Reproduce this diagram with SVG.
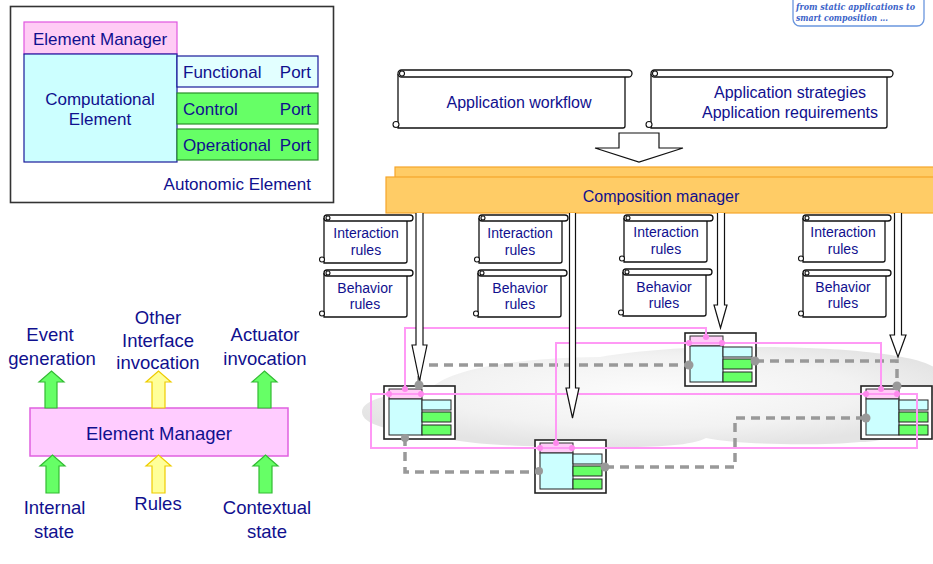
<svg xmlns="http://www.w3.org/2000/svg" xmlns:xlink="http://www.w3.org/1999/xlink" width="933" height="564" viewBox="0 0 933 564">
  <defs>
    <style>
      .lbl { font-family: "Liberation Sans", Arial, sans-serif; fill: #10108e; }
      .f17 { font-size: 17px; }
      .f18 { font-size: 18.5px; }
      .f16 { font-size: 16px; }
      .f14 { font-size: 14px; }
      .mid { text-anchor: middle; }
      .end { text-anchor: end; }
      .scroll { fill: #ffffff; stroke: #111111; stroke-width: 1.3; }
      .curl { fill: #ffffff; stroke: #111111; stroke-width: 1.1; }
      .up-green { fill: #66ff66; stroke: #33bb33; stroke-width: 1.2; }
      .up-yellow { fill: #ffff99; stroke: #eecc00; stroke-width: 1.2; }
      .dash { fill: none; stroke: #999999; stroke-width: 3.5; stroke-dasharray: 9 6; }
      .pink { fill: none; stroke: #ff99f5; stroke-width: 2; }
      .pdot { fill: #ff88ee; }
      .gdot { fill: #999999; }
      .flow { fill: #ffffff; stroke: #111111; stroke-width: 1.2; }
      .note { font-family: "DejaVu Serif", serif; font-style: italic; font-weight: bold; font-size: 9px; fill: #3a62c8; }
    </style>
    <radialGradient id="cloudFill" cx="50%" cy="45%" r="55%">
      <stop offset="0%" stop-color="#fcfcfc"/>
      <stop offset="65%" stop-color="#f2f2f2"/>
      <stop offset="100%" stop-color="#e4e4e4"/>
    </radialGradient>
    <!-- small autonomic element used in the composition area -->
    <g id="miniElement">
      <rect x="0" y="0" width="71" height="53" fill="#ffffff" stroke="#222222" stroke-width="1.6"/>
      <rect x="5" y="3" width="33" height="10" fill="#ffccf7" stroke="#333333" stroke-width="1"/>
      <rect x="5" y="13" width="33" height="36" fill="#ccffff" stroke="#222222" stroke-width="1"/>
      <rect x="38" y="14" width="29" height="10" fill="#ccffff" stroke="#222222" stroke-width="1"/>
      <rect x="38" y="26" width="29" height="10" fill="#66ff66" stroke="#222222" stroke-width="1"/>
      <rect x="38" y="39" width="29" height="10" fill="#66ff66" stroke="#222222" stroke-width="1"/>
    </g>
  </defs>

  <rect x="0" y="0" width="933" height="564" fill="#ffffff"/>

  <!-- note box, top right -->
  <g id="note">
    <rect x="793" y="-12" width="131" height="38" rx="7" fill="#ffffff" stroke="#6a96de" stroke-width="1.3"/>
    <text class="note" x="796" y="10" textLength="119" lengthAdjust="spacingAndGlyphs">from static applications to</text>
    <text class="note" x="796" y="21" textLength="92" lengthAdjust="spacingAndGlyphs">smart composition ...</text>
  </g>

  <!-- autonomic element structure -->
  <g id="autonomic-element">
    <rect x="10.5" y="6.5" width="323" height="196" fill="#ffffff" stroke="#333333" stroke-width="1.6"/>
    <rect x="24" y="22" width="153" height="32" fill="#ffccf5" stroke="#e055e0" stroke-width="1.2"/>
    <rect x="24" y="54" width="153" height="108" fill="#ccffff" stroke="#1a1a9a" stroke-width="1.2"/>
    <rect x="177" y="56" width="141" height="31" fill="#e2ffff" stroke="#1a1a9a" stroke-width="1.2"/>
    <rect x="177" y="93" width="141" height="31" fill="#66ff66" stroke="#2a8f2a" stroke-width="1.2"/>
    <rect x="177" y="129" width="141" height="31" fill="#66ff66" stroke="#2a8f2a" stroke-width="1.2"/>
    <text class="lbl f17 mid" x="100" y="45">Element Manager</text>
    <text class="lbl f17 mid" x="100" y="105">Computational</text>
    <text class="lbl f17 mid" x="100" y="125">Element</text>
    <text class="lbl f17" x="183" y="78">Functional</text>
    <text class="lbl f17 end" x="311" y="78">Port</text>
    <text class="lbl f17" x="183" y="115">Control</text>
    <text class="lbl f17 end" x="311" y="115">Port</text>
    <text class="lbl f17" x="183" y="151">Operational</text>
    <text class="lbl f17 end" x="311" y="151">Port</text>
    <text class="lbl f17 end" x="311" y="190">Autonomic Element</text>
  </g>

  <!-- element manager inputs and outputs -->
  <g id="element-manager">
    <rect x="30" y="408" width="258" height="48" fill="#ffccff" stroke="#e060e0" stroke-width="1.5"/>
    <text class="lbl f18 mid" x="159" y="440">Element Manager</text>
  </g>
  <g id="out-event">
    <path class="up-green" d="M45,408 V382 H39 L51.5,371 L64,382 H57 V408 Z"/>
    <text class="lbl f18 mid" x="50" y="341">Event</text>
    <text class="lbl f18 mid" x="52" y="365">generation</text>
  </g>
  <g id="out-interface">
    <path class="up-yellow" d="M152,408 V382 H146 L158.5,371 L171,382 H165 V408 Z"/>
    <text class="lbl f18 mid" x="158" y="324">Other</text>
    <text class="lbl f18 mid" x="158" y="347">Interface</text>
    <text class="lbl f18 mid" x="158" y="369">invocation</text>
  </g>
  <g id="out-actuator">
    <path class="up-green" d="M258,408 V382 H252 L264.5,371 L277,382 H271 V408 Z"/>
    <text class="lbl f18 mid" x="265" y="341">Actuator</text>
    <text class="lbl f18 mid" x="265" y="365">invocation</text>
  </g>
  <g id="in-internal">
    <path class="up-green" d="M46,493 V466 H40 L52.5,455 L65,466 H59 V493 Z"/>
    <text class="lbl f18 mid" x="54.5" y="514">Internal</text>
    <text class="lbl f18 mid" x="54" y="538">state</text>
  </g>
  <g id="in-rules">
    <path class="up-yellow" d="M152,493 V466 H146 L158.5,455 L171,466 H165 V493 Z"/>
    <text class="lbl f18 mid" x="158" y="510">Rules</text>
  </g>
  <g id="in-contextual">
    <path class="up-green" d="M259,493 V466 H253 L265.5,455 L278,466 H272 V493 Z"/>
    <text class="lbl f18 mid" x="267" y="514">Contextual</text>
    <text class="lbl f18 mid" x="267" y="538">state</text>
  </g>

  <!-- application level inputs -->
  <g id="app-workflow">
    <path class="scroll" d="M398,74 V128 H623 Q625,128 625,126 V77"/>
    <rect class="scroll" x="398" y="70" width="234" height="7" rx="3.5"/>
    <circle class="curl" cx="402" cy="73.5" r="2.5"/>
    <circle class="curl" cx="396" cy="124.5" r="3"/>
    <text class="lbl f16 mid" x="519" y="108">Application workflow</text>
  </g>
  <g id="app-strategies">
    <path class="scroll" d="M651,74 V128 H885 Q887,128 887,126 V77"/>
    <rect class="scroll" x="651" y="70" width="242" height="7" rx="3.5"/>
    <circle class="curl" cx="655" cy="73.5" r="2.5"/>
    <circle class="curl" cx="649" cy="124.5" r="3"/>
    <text class="lbl f16 mid" x="790" y="98">Application strategies</text>
    <text class="lbl f16 mid" x="790" y="118">Application requirements</text>
  </g>
  <g id="feed-arrow">
    <path class="flow" d="M619,133 H659 V148 H683 L639,162 L595,148 H619 Z"/>
  </g>

  <!-- composition manager -->
  <g id="composition-manager">
    <rect x="395" y="167" width="545" height="12" fill="#ffcc66" stroke="#f5a52a" stroke-width="1.2"/>
    <rect x="386" y="177" width="560" height="36" fill="#ffcc66" stroke="#f5a52a" stroke-width="1.2"/>
    <text class="lbl f16 mid" x="661" y="202">Composition manager</text>
  </g>

  <!-- rule sets -->
  <g id="interaction-rules-1">
    <path class="scroll" d="M324,218 V263 H405 Q407,263 407,261 V221"/>
    <rect class="scroll" x="324" y="215" width="89" height="6" rx="3"/>
    <circle class="curl" cx="328" cy="218" r="2"/>
    <circle class="curl" cx="322" cy="259.5" r="2.5"/>
    <text class="lbl f14 mid" x="366" y="238">Interaction</text>
    <text class="lbl f14 mid" x="366" y="255">rules</text>
  </g>
  <g id="behavior-rules-1">
    <path class="scroll" d="M324,273 V317 H405 Q407,317 407,315 V276"/>
    <rect class="scroll" x="324" y="270" width="89" height="6" rx="3"/>
    <circle class="curl" cx="328" cy="273" r="2"/>
    <circle class="curl" cx="322" cy="313.5" r="2.5"/>
    <text class="lbl f14 mid" x="365" y="293">Behavior</text>
    <text class="lbl f14 mid" x="365" y="309">rules</text>
  </g>
  <g id="interaction-rules-2">
    <path class="scroll" d="M479,218 V263 H560 Q562,263 562,261 V221"/>
    <rect class="scroll" x="479" y="215" width="89" height="6" rx="3"/>
    <circle class="curl" cx="483" cy="218" r="2"/>
    <circle class="curl" cx="477" cy="259.5" r="2.5"/>
    <text class="lbl f14 mid" x="520" y="238">Interaction</text>
    <text class="lbl f14 mid" x="520" y="255">rules</text>
  </g>
  <g id="behavior-rules-2">
    <path class="scroll" d="M478,273 V317 H559 Q561,317 561,315 V276"/>
    <rect class="scroll" x="478" y="270" width="89" height="6" rx="3"/>
    <circle class="curl" cx="482" cy="273" r="2"/>
    <circle class="curl" cx="476" cy="313.5" r="2.5"/>
    <text class="lbl f14 mid" x="520" y="293">Behavior</text>
    <text class="lbl f14 mid" x="520" y="309">rules</text>
  </g>
  <g id="interaction-rules-3">
    <path class="scroll" d="M624,218 V262 H705 Q707,262 707,260 V221"/>
    <rect class="scroll" x="624" y="215" width="89" height="6" rx="3"/>
    <circle class="curl" cx="628" cy="218" r="2"/>
    <circle class="curl" cx="622" cy="258.5" r="2.5"/>
    <text class="lbl f14 mid" x="666" y="237">Interaction</text>
    <text class="lbl f14 mid" x="666" y="254">rules</text>
  </g>
  <g id="behavior-rules-3">
    <path class="scroll" d="M623,272 V316 H704 Q706,316 706,314 V275"/>
    <rect class="scroll" x="623" y="269" width="89" height="6" rx="3"/>
    <circle class="curl" cx="627" cy="272" r="2"/>
    <circle class="curl" cx="621" cy="312.5" r="2.5"/>
    <text class="lbl f14 mid" x="664" y="292">Behavior</text>
    <text class="lbl f14 mid" x="664" y="308">rules</text>
  </g>
  <g id="interaction-rules-4">
    <path class="scroll" d="M803,218 V262 H883 Q885,262 885,260 V221"/>
    <rect class="scroll" x="803" y="215" width="88" height="6" rx="3"/>
    <circle class="curl" cx="807" cy="218" r="2"/>
    <circle class="curl" cx="801" cy="258.5" r="2.5"/>
    <text class="lbl f14 mid" x="843" y="237">Interaction</text>
    <text class="lbl f14 mid" x="843" y="254">rules</text>
  </g>
  <g id="behavior-rules-4">
    <path class="scroll" d="M803,273 V317 H884 Q886,317 886,315 V276"/>
    <rect class="scroll" x="803" y="270" width="88" height="6" rx="3"/>
    <circle class="curl" cx="807" cy="273" r="2"/>
    <circle class="curl" cx="801" cy="313.5" r="2.5"/>
    <text class="lbl f14 mid" x="843" y="292">Behavior</text>
    <text class="lbl f14 mid" x="843" y="308">rules</text>
  </g>

  <!-- execution environment -->
  <g id="cloud">
    <path fill="url(#cloudFill)" d="M362,412 C362,398 398,392 428,392 C445,368 520,358 600,357 C640,350 700,346 760,347 C840,347 940,355 940,375 C940,395 925,405 905,410 C915,425 895,442 860,442 C820,446 740,445 706,438 C690,447 640,448 580,447 C500,447 440,442 430,432 C392,432 362,425 362,412 Z"/>
  </g>

  <!-- composed elements -->
  <g id="element-a" transform="translate(384,386)"><use xlink:href="#miniElement" href="#miniElement"/></g>
  <g id="element-b" transform="translate(535,440)"><use xlink:href="#miniElement" href="#miniElement"/></g>
  <g id="element-c" transform="translate(685,333)"><use xlink:href="#miniElement" href="#miniElement"/></g>
  <g id="element-d" transform="translate(861,386)"><use xlink:href="#miniElement" href="#miniElement"/></g>

  <g id="connectors">
    <!-- data links between elements -->
    <path class="dash" d="M419,385 V365 H689"/>
    <path class="dash" d="M755,361 H897 V386"/>
    <path class="dash" d="M405,437 V472 H538"/>
    <path class="dash" d="M605,467 H735 V418 H866"/>
    <!-- management links between element managers -->
    <rect class="pink" x="371" y="394" width="546" height="54"/>
    <path class="pink" d="M405,389 V328 H706 V337"/>
    <path class="pink" d="M556,443 V343 H881 V389"/>
    <!-- composition manager control flows -->
    <path class="flow" d="M416,213 V345 H412 L419.5,381 L427,345 H423 V213"/>
    <path class="flow" d="M569.5,213 V388 H566 L572.5,418 L579,388 H575.5 V213"/>
    <path class="flow" d="M717.5,213 V305 H714 L720.5,328 L727,305 H724.5 V213"/>
    <path class="flow" d="M894.5,213 V335 H890 L898,357 L906,335 H901.5 V213"/>
    <!-- link end points -->
    <circle class="gdot" cx="419" cy="385" r="4.5"/>
    <circle class="gdot" cx="405" cy="438" r="4"/>
    <circle class="gdot" cx="689" cy="365" r="4.5"/>
    <circle class="gdot" cx="755" cy="361" r="4.5"/>
    <circle class="gdot" cx="897" cy="386" r="4.5"/>
    <circle class="gdot" cx="866" cy="418" r="4.5"/>
    <circle class="gdot" cx="605" cy="467" r="4.5"/>
    <circle class="gdot" cx="539" cy="471" r="4"/>
    <circle class="pdot" cx="405" cy="389" r="3"/>
    <circle class="pdot" cx="389" cy="394" r="3"/>
    <circle class="pdot" cx="421" cy="394" r="3"/>
    <circle class="pdot" cx="556" cy="443" r="3"/>
    <circle class="pdot" cx="540" cy="448" r="3"/>
    <circle class="pdot" cx="572" cy="448" r="3"/>
    <circle class="pdot" cx="706" cy="337" r="3"/>
    <circle class="pdot" cx="689" cy="343" r="3"/>
    <circle class="pdot" cx="722" cy="343" r="3"/>
    <circle class="pdot" cx="881" cy="389" r="3"/>
    <circle class="pdot" cx="866" cy="394" r="3"/>
    <circle class="pdot" cx="897" cy="394" r="3"/>
  </g>
</svg>
